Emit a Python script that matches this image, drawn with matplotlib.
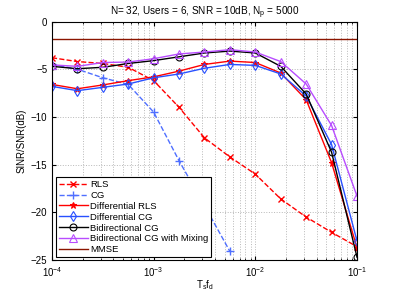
import numpy as np
import matplotlib
matplotlib.use("Agg")
import matplotlib.pyplot as plt

# Ts*fd sample points (quarter decade steps)
tsfd = [1e-4, 1.778e-4, 3.162e-4, 5.623e-4, 1e-3, 1.778e-3, 3.162e-3, 5.623e-3,
        1e-2, 1.778e-2, 3.162e-2, 5.623e-2, 1e-1]

rls = [-3.8, -4.2, -4.4, -4.8, -6.2, -9.0, -12.2, -14.2, -16.0, -18.6, -20.5, -22.1, -23.6]
cg = [-4.5, -5.0, -5.9, -6.6, -9.5, -14.6, -19.3, -24.1]
diff_rls = [-6.6, -7.05, -6.65, -6.2, -5.8, -5.2, -4.5, -4.15, -4.3, -5.4, -8.2, -14.8, -23.7]
diff_cg = [-6.8, -7.25, -6.9, -6.55, -5.9, -5.5, -4.9, -4.5, -4.6, -5.5, -7.8, -12.9, -23.0]
bi_cg = [-4.7, -4.95, -4.8, -4.4, -4.1, -3.7, -3.3, -3.1, -3.3, -4.7, -7.6, -13.7, -24.7]
bi_cg_mix = [-4.55, -4.7, -4.3, -4.25, -3.9, -3.4, -3.2, -2.95, -3.2, -4.2, -6.55, -10.9, -18.3]
mmse = -1.85

plt.rcParams['font.family'] = ['Liberation Sans', 'DejaVu Sans']
fig = plt.figure(figsize=(3.95, 2.93), dpi=100)
ax = fig.add_axes([52/395, 1 - 260/293, 305/395, 238.5/293])

ms = 5
ax.semilogx(tsfd, rls, '--x', color='red', lw=1, ms=ms, mew=1, label='RLS')
ax.semilogx(tsfd[:len(cg)], cg, '--+', color='#4f6fff', lw=1, ms=ms + 1, mew=1, label='CG')
ax.semilogx(tsfd, diff_rls, '-*', color='red', lw=1, ms=ms, mew=0.8, label='Differential RLS')
ax.semilogx(tsfd, diff_cg, '-d', color='#2850ff', lw=1, ms=ms, mew=0.8, mfc='none', label='Differential CG')
ax.semilogx(tsfd, bi_cg, '-o', color='black', lw=1, ms=ms, mew=0.8, mfc='none', label='Bidirectional CG')
ax.semilogx(tsfd, bi_cg_mix, '-^', color='#b84cff', lw=1, ms=ms + 1, mew=0.8, mfc='none',
            label='Bidirectional CG with Mixing')
ax.axhline(mmse, color='#8b1500', lw=1, label='MMSE')

ax.set_xlim(1e-4, 1e-1)
ax.set_ylim(-25, 0)
ax.set_yticks([0, -5, -10, -15, -20, -25])
ax.set_yticklabels(['0', '\u22125', '\u221210', '\u221215', '\u221220', '\u221225'])
ax.grid(True, which='major', ls=':', color='#b8b8b8', lw=0.7)
ax.grid(True, which='minor', axis='x', ls=':', color='#b8b8b8', lw=0.7)
ax.tick_params(which='both', direction='in', top=True, right=True, labelsize=7)
ax.tick_params(axis='x', pad=3.5)
ax.tick_params(which='major', length=3)
ax.tick_params(which='minor', length=1.5)
for s in ax.spines.values():
    s.set_linewidth(0.8)

ax.set_title('N= 32, Users = 6, SNR = 10dB, N$_\\mathregular{p}$ = 5000', fontsize=7.2, pad=4)
ax.set_xlabel('T$_\\mathregular{s}$f$_\\mathregular{d}$', fontsize=7, labelpad=0)
ax.set_ylabel('SINR/SNR(dB)', fontsize=7, labelpad=3)

leg = ax.legend(loc='lower left', fontsize=6.8, frameon=True, fancybox=False,
                edgecolor='black', framealpha=1, borderpad=0.3, labelspacing=0.2,
                handlelength=3, handletextpad=0.3, borderaxespad=0.3,
                bbox_to_anchor=(0.005, 0.0))
leg.get_frame().set_linewidth(0.8)

fig.savefig('out.png', dpi=100)
